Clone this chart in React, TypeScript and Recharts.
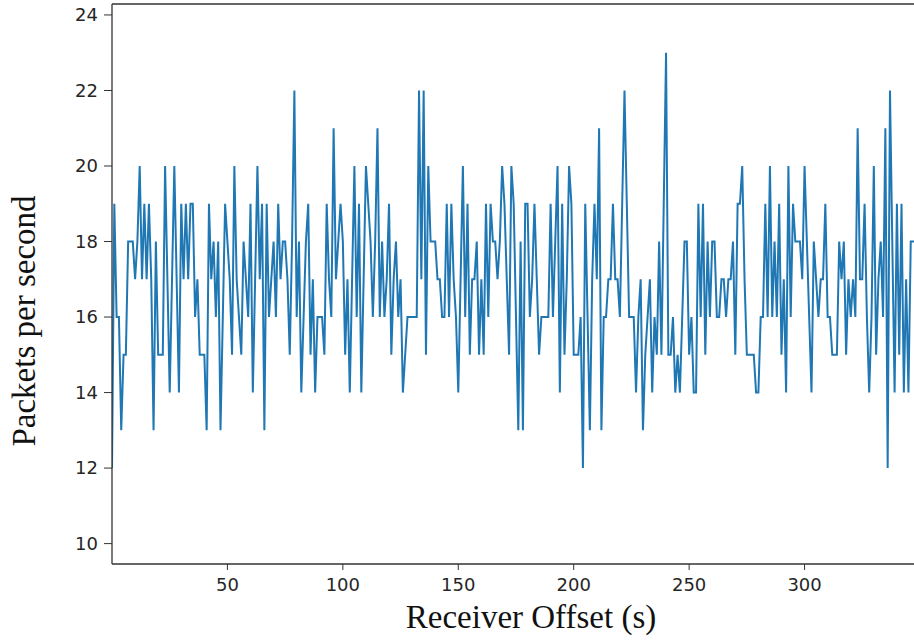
import React from "react";
import {
  LineChart,
  Line,
  XAxis,
  YAxis,
  Label,
  ReferenceLine
} from "recharts";

// packets received per second, sampled once per second of receiver offset
const block1 = [
  12, 19, 16, 16, 13, 15, 15, 18, 18, 18,
  17, 18, 20, 17, 19, 17, 19, 17, 13, 18,
  15, 15, 15, 20, 17, 14, 17, 20, 17, 14,
  19, 17, 19, 17, 19, 19, 16, 17, 15, 15, 15,
  13, 19, 17, 18, 16, 18, 13, 16, 19, 18,
  17, 15, 20, 17, 16, 15, 18, 17, 16, 19
];
const block2 = [
  14, 17, 20, 17, 19, 13, 19, 16, 17, 18,
  16, 19, 17, 18, 18, 17, 15, 18, 22, 16,
  18, 14, 16, 18, 19, 15, 17, 14, 16, 16, 16,
  15, 19, 17, 16, 21, 17, 18, 19, 18, 15,
  17, 14, 17, 20, 16, 19, 14, 17, 20, 19,
  18, 16, 18, 21, 16, 18, 16, 17, 19, 15
];
const block3 = [
  17, 18, 16, 17, 14, 15, 16, 16, 16, 16, 16,
  22, 17, 22, 15, 20, 18, 18, 18, 17, 17,
  16, 16, 19, 16, 19, 17, 16, 14, 17, 20,
  16, 19, 15, 17, 17, 18, 15, 17, 15, 19,
  16, 19, 18, 18, 17, 18, 20, 19, 17, 15,
  20, 19, 16, 13, 18, 13, 19, 19, 16, 17
];
const block4 = [
  19, 17, 15, 16, 16, 16, 16, 19, 16, 18, 20,
  14, 19, 15, 17, 20, 19, 15, 15, 15, 16,
  12, 19, 16, 13, 17, 19, 17, 21, 13, 16,
  16, 17, 17, 19, 17, 17, 16, 19, 22, 19,
  16, 16, 16, 14, 16, 17, 13, 15, 16, 17, 14,
  16, 15, 18, 15, 19, 23, 15, 15, 16, 14
];
const block5 = [
  15, 14, 16, 18, 18, 15, 16, 14, 14, 19,
  16, 19, 15, 18, 16, 18, 18, 16, 16, 17,
  17, 16, 17, 17, 18, 15, 19, 19, 20, 17,
  15, 15, 15, 15, 14, 14, 16, 16, 19, 16, 20,
  16, 18, 16, 19, 15, 17, 14, 20, 16, 19,
  18, 18, 18, 17, 20, 18, 16, 14, 18, 17
];
const block6 = [
  16, 17, 17, 19, 16, 16, 15, 15, 15, 18, 17,
  18, 15, 17, 16, 17, 16, 21, 17, 17, 19,
  16, 14, 16, 20, 15, 17, 18, 16, 21, 12,
  22, 18, 14, 19, 15, 19, 14, 17, 14, 18,
  18, 18
];

const xTicks = [50, 100, 150, 200, 250, 300];
const yTicks = [10, 12, 14, 16, 18, 20, 22, 24];

const packets = [...block1, ...block2, ...block3, ...block4, ...block5, ...block6];

const rows = packets.map((v, i) => ({ t: i, pps: v }));

const X_MAX = 363;
const Y_MIN = 9.46;
const Y_MAX = 24.29;
const AXIS = "#333";
const tickStyle = {
  fontSize: 18,
  fill: "#262626",
  fontFamily: '"DejaVu Sans", sans-serif'
};
const titleFont = '"Times New Roman", "Liberation Serif", serif';

function YTitle() {
  return (
    <text
      x={35}
      y={321}
      transform="rotate(-90 35 321)"
      textAnchor="middle"
      fontFamily={titleFont}
      fontSize={33}
      fill="#111"
    >
      Packets per second
    </text>
  );
}

export default function App() {
  return (
    <div
      style={{
        position: "absolute",
        left: 0,
        top: 0,
        width: 914,
        height: 640,
        overflow: "hidden",
        background: "#fff"
      }}
    >
      <LineChart
        width={950}
        height={640}
        data={rows}
        margin={{ top: 4, right: 0, bottom: 0, left: 0 }}
      >
        <XAxis
          dataKey="t"
          type="number"
          domain={[0, X_MAX]}
          ticks={xTicks}
          allowDataOverflow
          height={76}
          tickSize={6}
          tickMargin={8}
          tick={tickStyle}
          stroke={AXIS}
          tickLine={{ stroke: AXIS }}
          axisLine={{ stroke: AXIS, strokeWidth: 1.3 }}
        >
          <Label
            value="Receiver Offset (s)"
            position="insideBottom"
            offset={12}
            style={{ fontFamily: titleFont, fontSize: 33, fill: "#111" }}
          />
        </XAxis>
        <YAxis
          type="number"
          domain={[Y_MIN, Y_MAX]}
          ticks={yTicks}
          allowDataOverflow
          width={112}
          tickSize={8}
          tickMargin={6}
          tick={tickStyle}
          stroke={AXIS}
          tickLine={{ stroke: AXIS }}
          axisLine={{ stroke: AXIS, strokeWidth: 1.3 }}
        >
          <Label content={() => <YTitle />} />
        </YAxis>
        <ReferenceLine y={Y_MAX} stroke={AXIS} strokeWidth={1.3} />
        <Line
          type="linear"
          dataKey="pps"
          stroke="#1f77b4"
          strokeWidth={2}
          dot={false}
          isAnimationActive={false}
        />
      </LineChart>
    </div>
  );
}
